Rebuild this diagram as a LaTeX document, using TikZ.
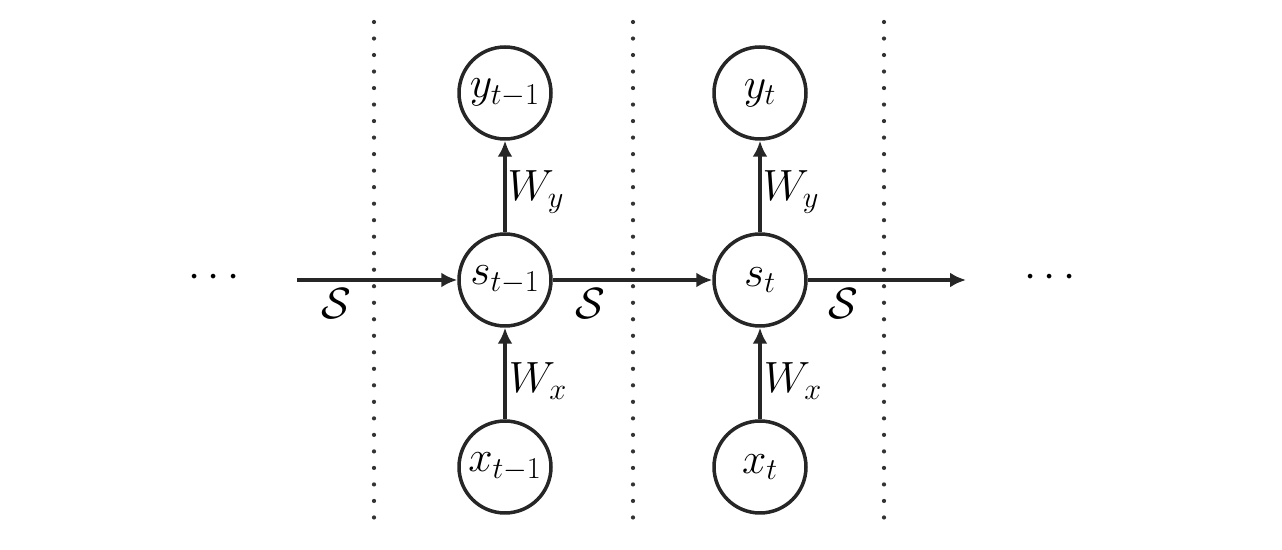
\documentclass[tikz,border=0pt]{standalone}
\usetikzlibrary{arrows.meta}
\begin{document}
\begin{tikzpicture}[x=0.02cm,y=-0.02cm,
  unit/.style={circle,draw=black!85,line width=2pt,minimum size=1.84cm,inner sep=0pt,font=\fontsize{23}{27}\selectfont},
  conn/.style={draw=black!85,line width=2pt,-{Latex[length=0.32cm,width=0.3cm]}},
  sep/.style={draw=black!80,line width=2.4pt,line cap=round,dash pattern=on 0pt off 9.4pt},
  lbl/.style={font=\fontsize{23}{27}\selectfont,inner sep=0pt},
  dots/.style={font=\fontsize{32}{36}\selectfont,inner sep=0pt}]
\useasboundingbox (0,0) rectangle (1282,550);
% separators
\draw[sep] (374,22) -- (374,530);
\draw[sep] (633,22) -- (633,530);
\draw[sep] (884,22) -- (884,530);
% nodes
\node[unit] (s1) at (505,280) {$s_{t-1}$};
\node[unit] (s2) at (760,280) {$s_t$};
\node[unit] (y1) at (505,93) {$y_{t-1}$};
\node[unit] (y2) at (760,93) {$y_t$};
\node[unit] (x1) at (505,467) {$x_{t-1}$};
\node[unit] (x2) at (760,467) {$x_t$};
\coordinate (in) at (297,280);
\coordinate (out) at (966,280);
\node[dots] (dl) at (214,278) {$\cdots$};
\node[dots] (dr) at (1050,278) {$\cdots$};
% connectors
\draw[conn] (in) -- (s1);
\draw[conn] (s1) -- (s2);
\draw[conn] (s2) -- (out);
\draw[conn] (s1) -- (y1);
\draw[conn] (s2) -- (y2);
\draw[conn] (x1) -- (s1);
\draw[conn] (x2) -- (s2);
% labels
\node[lbl] (S0) at (336,304) {$\mathcal{S}$};
\node[lbl] (S1) at (590,304) {$\mathcal{S}$};
\node[lbl] (S2) at (843,304) {$\mathcal{S}$};
\node[lbl] (wy1) at (536,192) {$W_y$};
\node[lbl] (wy2) at (791,192) {$W_y$};
\node[lbl] (wx1) at (538,381) {$W_x$};
\node[lbl] (wx2) at (793,381) {$W_x$};
\end{tikzpicture}
\end{document}
